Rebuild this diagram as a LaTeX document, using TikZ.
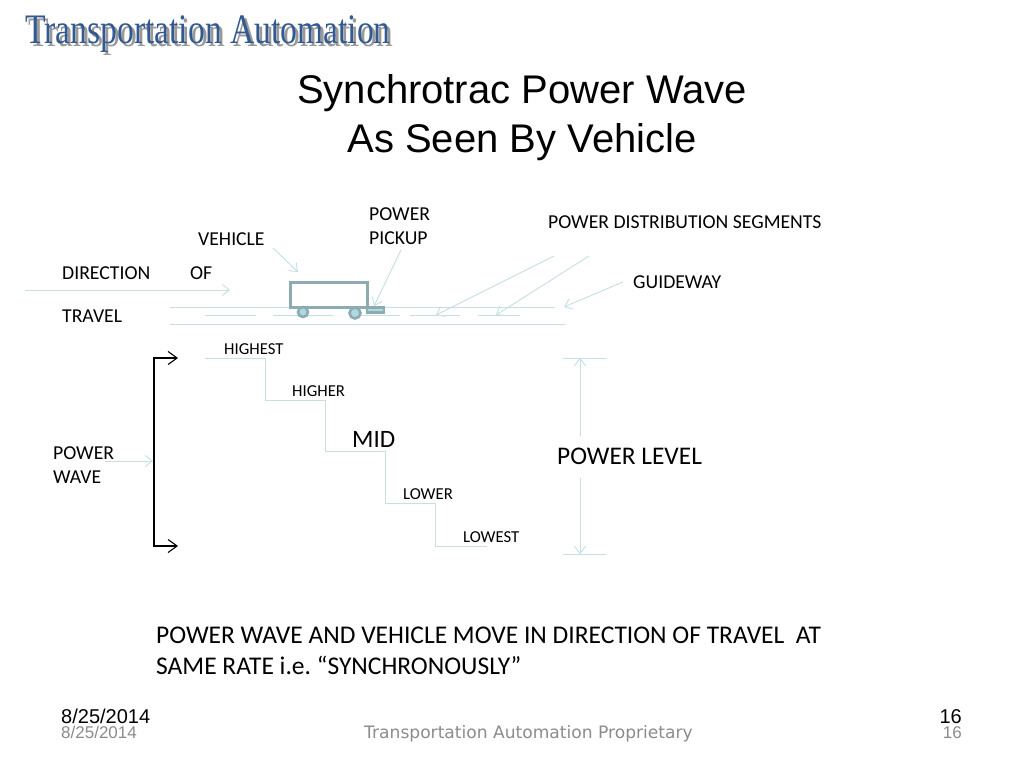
\documentclass[tikz,border=0pt]{standalone}
\usepackage{fontspec}
\setmainfont{Carlito}
\newfontfamily\arialfont{Liberation Sans}
\newfontfamily\logofont[FakeStretch=0.8]{Liberation Serif}
\newfontfamily\verafont{DejaVu Sans}
\usetikzlibrary{arrows.meta}
\definecolor{paleline}{RGB}{197,223,228}
\definecolor{vehline}{RGB}{140,172,177}
\definecolor{wheelfill}{RGB}{176,216,224}
\definecolor{logoblue}{RGB}{50,90,145}
\tikzset{
    lbl/.style={inner sep=0pt,anchor=west,text=black},
    lnpale/.style={draw=paleline,line width=0.9pt},
    arpale/.style={lnpale,-{Straight Barb[length=7pt,width=11pt]}},
    arblack/.style={draw=black,line width=1.1pt,{Straight Barb[length=9pt,width=13pt]}-{Straight Barb[length=9pt,width=13pt]}},
    veh/.style={draw=vehline,line width=3pt},
    foot/.style={inner sep=0pt,text=black!45},
}
\begin{document}
\frenchspacing
\begin{tikzpicture}[x=1pt,y=-1pt]
    \useasboundingbox (0,0) rectangle (1024,768);
    \fill[white] (0,0) rectangle (1024,768);

    % heading
    \node[inner sep=0pt,text=black!40] (logoshade) at (211,37) {\logofont\fontsize{42}{42}\selectfont Transportation Automation};
    \node[inner sep=0pt,text=logoblue] (logo) at (208,34) {\logofont\fontsize{42}{42}\selectfont Transportation Automation};
    \node[inner sep=0pt,align=center,font=\arialfont\fontsize{40}{49}\selectfont] (title) at (522,118) {Synchrotrac Power Wave\\As Seen By Vehicle};

    % guideway
    \coordinate (gt1) at (170,307);
    \coordinate (gt2) at (555,307);
    \coordinate (gb1) at (170,324);
    \coordinate (gb2) at (565,324);
    \path (gt1) edge[lnpale] (gt2) (gb1) edge[lnpale] (gb2);
    \foreach \xa / \xb in {205/256,273/333,350/400,410/460,478/520}
        \draw[lnpale] (\xa,315) -- (\xb,315);

    % vehicle
    \node[veh,inner sep=0pt,minimum width=77pt,minimum height=25pt] (vehicle) at (328.5,294.5) {};
    \node[veh,fill=wheelfill,circle,inner sep=0pt,minimum size=10pt,line width=2.6pt] (wheela) at (303,312) {};
    \node[veh,fill=wheelfill,circle,inner sep=0pt,minimum size=11pt,line width=2.6pt] (wheelb) at (355,313) {};
    \node[veh,fill=wheelfill,inner sep=0pt,minimum width=17pt,minimum height=5pt,line width=2.2pt] (pickup) at (375.5,310) {};

    % labels on top
    \node[lbl,font=\fontsize{19.7}{24}\selectfont,align=left] (pickuplbl) at (369,226) {POWER\\PICKUP};
    \node[lbl,font=\fontsize{19.7}{20}\selectfont] (seglbl) at (548,222) {POWER DISTRIBUTION SEGMENTS};
    \node[lbl,font=\fontsize{19.7}{20}\selectfont] (vehlbl) at (198,239.5) {VEHICLE};
    \node[lbl,font=\fontsize{19.7}{20}\selectfont] (dirlbl) at (62,273.5) {DIRECTION};
    \node[lbl,font=\fontsize{19.7}{20}\selectfont] (oflbl) at (190,273.5) {OF};
    \node[lbl,font=\fontsize{19.7}{20}\selectfont] (travlbl) at (62,316.5) {TRAVEL};
    \node[lbl,font=\fontsize{19.7}{20}\selectfont] (guidelbl) at (633,282) {GUIDEWAY};

    % pointers
    \coordinate (dira) at (25,290);
    \coordinate (dirb) at (230,290);
    \coordinate (veha) at (273,248);
    \coordinate (vehb) at (298,272);
    \coordinate (pica) at (401,250);
    \coordinate (picb) at (374,306);
    \coordinate (sega) at (554,256);
    \coordinate (segb) at (436,315);
    \coordinate (segc) at (589,256);
    \coordinate (segd) at (496,315);
    \coordinate (guia) at (623,282);
    \coordinate (guib) at (564,307);
    \foreach \from / \to in {dira/dirb,veha/vehb,pica/picb,sega/segb,segc/segd,guia/guib}
        \path (\from) edge[arpale] (\to);

    % staircase
    \coordinate (s0) at (205,358);
    \coordinate (s1) at (265,358);
    \coordinate (s2) at (265,400);
    \coordinate (s3) at (325,400);
    \coordinate (s4) at (325,451);
    \coordinate (s5) at (385,451);
    \coordinate (s6) at (385,503);
    \coordinate (s7) at (435,503);
    \coordinate (s8) at (435,546);
    \coordinate (s9) at (487,546);
    \draw[lnpale] (s0) -- (s1) -- (s2) -- (s3) -- (s4) -- (s5) -- (s6) -- (s7) -- (s8) -- (s9);
    \node[lbl,font=\fontsize{16.7}{17}\selectfont] (hst) at (224,349) {HIGHEST};
    \node[lbl,font=\fontsize{16.7}{17}\selectfont] (hgr) at (292,391.5) {HIGHER};
    \node[lbl,font=\fontsize{25}{24}\selectfont] (mid) at (352,439.5) {MID};
    \node[lbl,font=\fontsize{16.7}{17}\selectfont] (lwr) at (403,494) {LOWER};
    \node[lbl,font=\fontsize{16.7}{17}\selectfont] (lws) at (463,537) {LOWEST};

    % power wave bracket
    \coordinate (brt) at (154,358);
    \coordinate (brb) at (154,546);
    \coordinate (brtend) at (178,358);
    \coordinate (brbend) at (178,546);
    \coordinate (brm) at (153,461);
    \coordinate (pwa) at (105,461);
    \draw[arblack] (brtend) -- (brt) -- (brb) -- (brbend);
    \path (pwa) edge[arpale] (brm);
    \node[lbl,font=\fontsize{19.7}{24}\selectfont,align=left] (wavelbl) at (53,465) {POWER\\WAVE};

    % power level
    \coordinate (plta) at (563,358);
    \coordinate (pltb) at (606,358);
    \coordinate (plba) at (563,554);
    \coordinate (plbb) at (606,554);
    \path (plta) edge[lnpale] (pltb) (plba) edge[lnpale] (plbb);
    \node[lbl,font=\fontsize{25.4}{24}\selectfont] (levellbl) at (557,456.5) {POWER LEVEL};
    \coordinate (pla) at (580,436);
    \coordinate (plat) at (580,358);
    \coordinate (plb) at (580,478);
    \coordinate (plbt) at (580,554);
    \path (pla) edge[arpale] (plat) (plb) edge[arpale] (plbt);

    % note and footer
    \node[lbl,font=\fontsize{25.5}{31.5}\selectfont,align=left] (note) at (156,651) {POWER WAVE AND VEHICLE MOVE IN DIRECTION OF TRAVEL\ \ AT\\SAME RATE i.e. “SYNCHRONOUSLY”};
    \node[inner sep=0pt,anchor=west,font=\arialfont\fontsize{20}{20}\selectfont] (datea) at (61,716) {8/25/2014};
    \node[inner sep=0pt,anchor=east,font=\arialfont\fontsize{20}{20}\selectfont] (numa) at (962,717) {16};
    \node[foot,anchor=west,font=\arialfont\fontsize{17}{20}\selectfont] (dateb) at (61,732.5) {8/25/2014};
    \node[foot,anchor=east,font=\arialfont\fontsize{17}{20}\selectfont] (numb) at (962,733) {16};
    \node[foot,anchor=west,font=\verafont\fontsize{17.1}{20}\selectfont] (prop) at (364,734) {Transportation Automation Proprietary};
\end{tikzpicture}
\end{document}
